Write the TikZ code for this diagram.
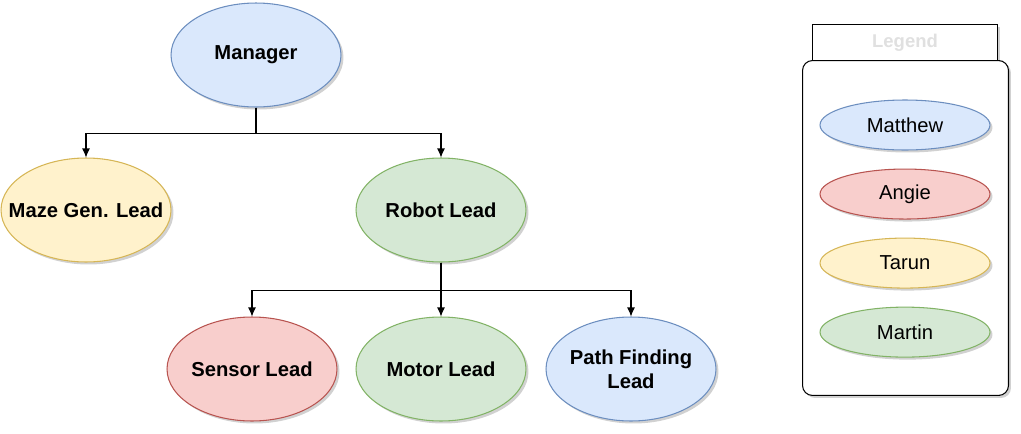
\documentclass[tikz,border=0pt]{standalone}
\usepackage{fontspec}
\setmainfont{Liberation Sans}
\usetikzlibrary{positioning, shapes.geometric, shadows, arrows.meta}
\definecolor{blueF}{HTML}{DAE8FC}\definecolor{blueD}{HTML}{6C8EBF}
\definecolor{redF}{HTML}{F8CECC}\definecolor{redD}{HTML}{B85450}
\definecolor{yelF}{HTML}{FFF2CC}\definecolor{yelD}{HTML}{D6B656}
\definecolor{grnF}{HTML}{D5E8D4}\definecolor{grnD}{HTML}{82B366}
\tikzset{
  shade/.style={drop shadow={shadow xshift=0.05cm, shadow yshift=-0.05cm, opacity=0.18, fill=black}},
  role/.style={ellipse, shade, line width=0.6pt, minimum width=3.4cm, minimum height=2.08cm,
    inner xsep=-0.45cm, inner ysep=1pt, align=center, font=\fontsize{11.5}{13.5}\selectfont\bfseries},
  person/.style={ellipse, shade, line width=0.6pt, minimum width=3.4cm, minimum height=1cm,
    inner sep=1pt, font=\fontsize{11.5}{13.5}\selectfont},
  blue/.style={draw=blueD, fill=blueF},
  red/.style={draw=redD, fill=redF},
  yellow/.style={draw=yelD, fill=yelF},
  green/.style={draw=grnD, fill=grnF},
  link/.style={->, line width=0.6pt}
}
\begin{document}
\begin{tikzpicture}[>={Latex[length=1.8mm, width=1.6mm]}, x=0.02cm, y=-0.02cm]
\useasboundingbox (0,0) rectangle (1021,433);

\node[role, blue] (manager) at (256,55) {Manager};
\node[role, yellow] (maze) at (86,210) {Maze Gen. Lead};
\node[role, green] (robot) at (441,210) {Robot Lead};
\node[role, red] (sensor) at (252,369) {Sensor Lead};
\node[role, green] (motor) at (441,369) {Motor Lead};
\node[role, blue] (path) at (631,369) {Path Finding\\Lead};

\draw[link] (manager.south) -- ++(0,26) -| (maze.north);
\draw[link] (manager.south) -- ++(0,26) -| (robot.north);
\draw[link] (robot.south) -- ++(0,28) -| (sensor.north);
\draw[link] (robot.south) -- (motor.north);
\draw[link] (robot.south) -- ++(0,28) -| (path.north);

% legend
\node[draw, fill=white, shade, line width=0.6pt, anchor=north west, minimum width=3.7cm,
  minimum height=0.72cm, text=black!12, font=\fontsize{10.5}{12}\selectfont\bfseries]
  (legendhead) at (812,24) {Legend};
\node[draw, fill=white, shade, line width=0.6pt, rounded corners=0.2cm, anchor=north west,
  minimum width=4.12cm, minimum height=6.7cm] (legendbox) at (802,60) {};
\node[person, blue] (matthew) at (905,125) {Matthew};
\node[person, red] (angie) [below=0.36cm of matthew] {Angie};
\node[person, yellow] (tarun) [below=0.36cm of angie] {Tarun};
\node[person, green] (martin) [below=0.36cm of tarun] {Martin};
\end{tikzpicture}
\end{document}
